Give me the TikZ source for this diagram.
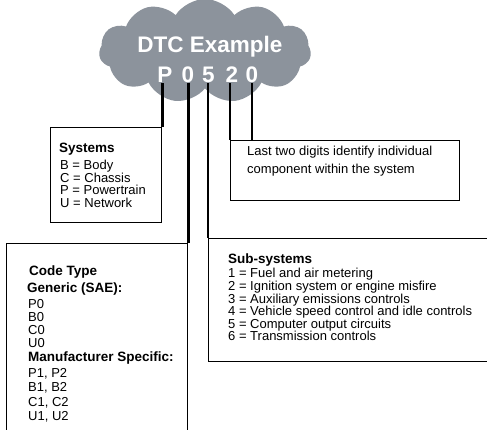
\documentclass[tikz,border=0pt]{standalone}
\usepackage{fontspec}
\setmainfont{Liberation Sans}
\usetikzlibrary{shapes.symbols}
\usetikzlibrary{positioning}
\definecolor{custom-gray}{RGB}{140, 147, 156}

\begin{document}
\begin{tikzpicture}[x=1pt, y=-1pt,
    infobox/.style={draw=black, line width=1.3pt, rectangle, anchor=north west, inner sep=0pt},
    digit/.style={text=white, font=\fontsize{22.5}{22.5}\selectfont\bfseries, inner sep=0pt, anchor=base},
    lead/.style={line width=2.8pt},
    head/.style={font=\fontsize{13.5}{13.5}\selectfont\bfseries, inner sep=0pt, anchor=base west},
    item/.style={font=\fontsize{13}{13}\selectfont, inner sep=0pt, anchor=base west}]
\useasboundingbox (0,0) rectangle (487,430);
\clip (0,0) rectangle (487,430);
\node[cloud, cloud puffs=11, cloud puff arc=115, aspect=2.1, fill=custom-gray, minimum width=212pt, minimum height=104pt] (cloud) at (205,51) {};
\node[digit] (title) at (210,53) {DTC Example};
\node[digit] (dP) at (165,83) {P};
\node[digit] (d0) at (188,83) {0};
\node[digit] (d5) at (208.5,83) {5};
\node[digit] (d2) at (232,83) {2};
\node[digit] (d4) at (252,83) {0};
\node[infobox, minimum width=111pt, minimum height=95pt] (systems) at (50,127) {};
\node[infobox, minimum width=229pt, minimum height=60pt] (lasttwo) at (230,140) {};
\node[infobox, minimum width=181pt, minimum height=210pt] (codetype) at (6,243) {};
\node[infobox, minimum width=295pt, minimum height=123pt] (subsys) at (208,238) {};
\draw[lead] (dP.south -| systems.north east) -- (systems.north east);
\draw[lead] (d0.south -| codetype.north east) -- (codetype.north east);
\draw[line width=2pt] (d5.south -| subsys.north west) -- (subsys.north west);
\draw[lead] (d2.south -| lasttwo.north west) -- (lasttwo.north west);
\draw[lead] (d4.south) -- (d4.south |- lasttwo.north);
\node[head] (syshead) at (59,153) {Systems};
\foreach \txt/\yy [count=\i] in {B = Body/170, C = Chassis/182.5, P = Powertrain/195, U = Network/207.5}
  \node[item] (sys\i) at (60,\yy) {\txt};
\node[item] (last1) at (247,156) {Last two digits identify individual};
\node[item] (last2) at (247,174) {component within the system};
\node[head] (codehead) at (29,276) {Code Type};
\node[head] (generic) at (27,292) {Generic (SAE):};
\foreach \txt/\yy [count=\i] in {P0/308, B0/321, C0/334, U0/347}
  \node[item] (gen\i) at (28,\yy) {\txt};
\node[head] (manuf) at (28,361) {Manufacturer Specific:};
\foreach \txt/\yy [count=\i] in {{P1, P2}/377, {B1, B2}/391, {C1, C2}/406, {U1, U2}/420}
  \node[item] (man\i) at (28,\yy) {\txt};
\node[head] (subhead) at (228,264) {Sub-systems};
\foreach \txt/\yy [count=\i] in {1 = Fuel and air metering/278, 2 = Ignition system or engine misfire/290.5,
    3 = Auxiliary emissions controls/303, 4 = Vehicle speed control and idle controls/315.5,
    5 = Computer output circuits/328, 6 = Transmission controls/340.5}
  \node[item] (sub\i) at (228,\yy) {\txt};
\end{tikzpicture}
\end{document}
